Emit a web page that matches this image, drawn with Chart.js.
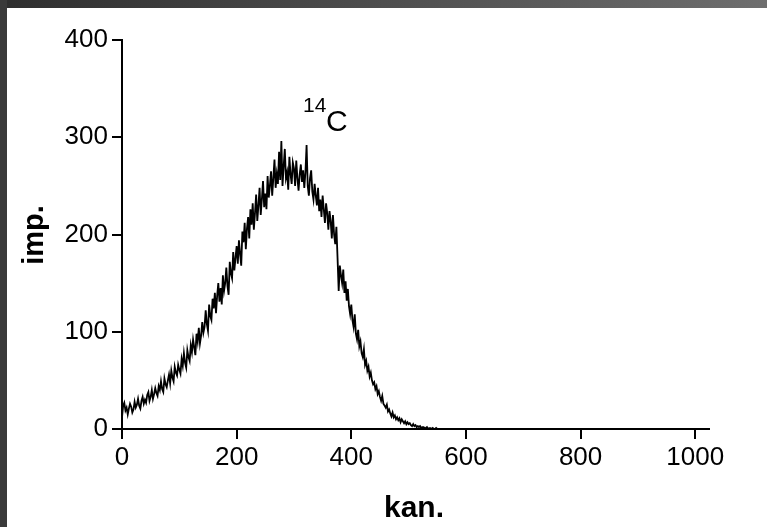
<!DOCTYPE html>
<html>
<head>
<meta charset="utf-8">
<script src="https://cdn.jsdelivr.net/npm/chart.js@4.4.1/dist/chart.umd.min.js"></script>
<style>
  html, body { margin: 0; padding: 0; background: #ffffff; }
  #frame { position: relative; width: 767px; height: 527px; background: #ffffff; overflow: hidden; }
  #topband { position: absolute; left: 0; top: 0; width: 767px; height: 8px;
             background: linear-gradient(to right, #2e2e2e, #6e6e6e); }
  #leftband { position: absolute; left: 0; top: 0; width: 7px; height: 527px; background: #3a3a3a; }
  #c { position: absolute; left: 0; top: 0; }
</style>
</head>
<body>
<div id="frame">
  <canvas id="c" width="767" height="527"></canvas>
  <div id="topband"></div>
  <div id="leftband"></div>
</div>
<script>
// Channel step between successive values (channels 0, 2, 4, ...)
const channelStep = 2;
// Counts (imp.), channels 0..560
const counts = [
  12, 24, 27, 19, 22, 15, 21, 26, 23, 17,
  20, 28, 22, 25, 31, 24, 21, 29, 33, 26,
  30, 27, 35, 38, 29, 33, 40, 31, 36, 42,
  37, 34, 44, 40, 49, 41, 38, 52, 46, 43,
  50, 56, 47, 60, 53, 49, 64, 58, 55, 66,
  61, 57, 72, 65, 78, 68, 63, 81, 74, 70,
  86, 79, 92, 84, 76, 98, 90, 104, 88, 96,
  110, 99, 105, 122, 108, 101, 128, 116, 112, 134,
  124, 140, 119, 137, 150, 131, 145, 128, 158, 142,
  150, 166, 147, 138, 172, 160, 155, 182, 163, 176,
  188, 170, 194, 180, 168, 203, 192, 212, 185, 206,
  218, 196, 226, 210, 232, 205, 222, 241, 214, 230,
  248, 220, 236, 255, 228, 242, 226, 260, 238, 250,
  265, 240, 258, 277, 248, 262, 252, 285, 256, 296,
  250, 270, 288, 258, 264, 246, 280, 262, 252, 274,
  268, 250, 276, 258, 245, 262, 272, 254, 266, 248,
  264, 292, 250, 240, 258, 266, 244, 236, 252, 240,
  230, 248, 224, 236, 218, 240, 226, 212, 232, 222,
  205, 224, 214, 196, 220, 200, 190, 208, 176, 142,
  168, 158, 150, 164, 140, 152, 132, 144, 126, 118,
  128, 112, 105, 118, 98, 92, 102, 85, 90, 78,
  74, 82, 66, 70, 60, 64, 54, 58, 50, 46,
  48, 41, 44, 36, 39, 33, 29, 34, 26, 24,
  22, 25, 18, 20, 16, 13, 17, 12, 14, 10,
  12, 9, 11, 7, 10, 8, 6, 8, 5, 7,
  5, 6, 4, 3, 5, 3, 4, 2, 3, 2,
  3, 1, 2, 2, 1, 1, 2, 0, 1, 1,
  0, 1, 0, 0, 1, 0, 0, 0, 0, 0,
  0
];
const xTicks = [0, 200, 400, 600, 800, 1000];
const yTicks = [0, 100, 200, 300, 400];
const xMax = 1024;
const yMax = 400;
const xTitle = 'kan.';
const yTitle = 'imp.';
const peakLabelSup = '14';
const peakLabelMain = 'C';

const points = counts.map((v, i) => ({ x: i * channelStep, y: v }));

const textPlugin = {
  id: 'texts',
  afterDraw(chart) {
    const ctx = chart.ctx;
    ctx.save();
    ctx.fillStyle = '#000';
    ctx.font = 'bold 30px "Liberation Sans", Arial, sans-serif';
    ctx.textAlign = 'center';
    ctx.textBaseline = 'alphabetic';
    ctx.fillText(xTitle, 414, 517);
    ctx.save();
    ctx.translate(43, 235);
    ctx.rotate(-Math.PI / 2);
    ctx.font = 'bold 29px "Liberation Sans", Arial, sans-serif';
    ctx.fillText(yTitle, 0, 0);
    ctx.restore();
    ctx.textAlign = 'left';
    ctx.font = '21px "Liberation Sans", Arial, sans-serif';
    ctx.fillText(peakLabelSup, 303, 112);
    ctx.font = '30px "Liberation Sans", Arial, sans-serif';
    ctx.fillText(peakLabelMain, 326, 131);
    ctx.restore();
  }
};

const tickFont = { family: '"Liberation Sans", Arial, sans-serif', size: 26 };

new Chart(document.getElementById('c'), {
  type: 'line',
  data: {
    datasets: [{
      data: points,
      borderColor: '#000',
      borderWidth: 1.8,
      pointRadius: 0,
      tension: 0,
      fill: false
    }]
  },
  options: {
    responsive: false,
    animation: false,
    layout: { padding: { top: 40, right: 58, left: 0, bottom: 0 } },
    plugins: { legend: { display: false }, tooltip: { enabled: false } },
    scales: {
      x: {
        type: 'linear',
        min: 0,
        max: xMax,
        afterBuildTicks(scale) { scale.ticks = xTicks.map(v => ({ value: v })); },
        afterFit(scale) { scale.height = 98; scale.paddingLeft = 0; scale.paddingRight = 0; },
        grid: { drawOnChartArea: false, drawTicks: true, tickLength: 10, color: '#000', lineWidth: 2 },
        border: { display: true, color: '#000', width: 2 },
        ticks: { color: '#000', padding: 3, maxRotation: 0, font: tickFont,
                 callback: v => String(v) }
      },
      y: {
        type: 'linear',
        min: 0,
        max: yMax,
        afterBuildTicks(scale) { scale.ticks = yTicks.map(v => ({ value: v })); },
        afterFit(scale) { scale.width = 122; scale.paddingTop = 0; scale.paddingBottom = 0; },
        grid: { drawOnChartArea: false, drawTicks: true, tickLength: 10, color: '#000', lineWidth: 2 },
        border: { display: true, color: '#000', width: 2 },
        ticks: { color: '#000', padding: 4, font: tickFont, callback: v => String(v) }
      }
    }
  },
  plugins: [textPlugin]
});
</script>
</body>
</html>
